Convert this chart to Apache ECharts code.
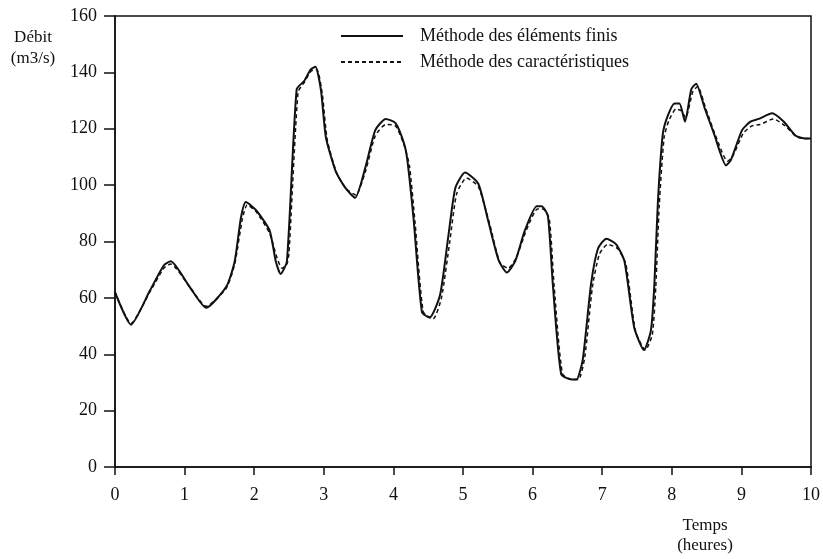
<!DOCTYPE html>
<html>
<head>
<meta charset="utf-8">
<script src="https://cdn.jsdelivr.net/npm/echarts@6/dist/echarts.min.js"></script>
<style>
html, body { margin: 0; padding: 0; background: #fff; }
#chart { width: 823px; height: 559px; }
</style>
</head>
<body>
<div id="chart"></div>
<script>
/*********************** données ***********************/
// Méthode des éléments finis (trait plein)
var tFinis = [0, 0.23, 0.5, 0.7, 0.8, 1.07, 1.31, 1.6, 1.72, 1.81, 1.88, 2.03, 2.22, 2.31, 2.38, 2.47,
    2.61, 2.72, 2.81, 2.88, 2.96, 3.03, 3.17, 3.31, 3.45, 3.6, 3.74, 3.89, 4.03, 4.15, 4.2, 4.29,
    4.41, 4.52, 4.67, 4.79, 4.89, 5.03, 5.22, 5.36, 5.51, 5.63, 5.75, 5.89, 6.06, 6.13, 6.22, 6.29,
    6.41, 6.56, 6.63, 6.72, 6.84, 6.94, 7.06, 7.2, 7.32, 7.46, 7.6, 7.7, 7.75, 7.8, 7.87, 7.94,
    8.04, 8.11, 8.19, 8.28, 8.35, 8.47, 8.61, 8.78, 8.85, 9.01, 9.13, 9.25, 9.44, 9.61, 9.78, 9.94, 10];
var qFinis = [62, 50.5, 62.5, 71.5, 73, 64, 56.5, 64, 73, 88.5, 94, 91, 84, 73, 68.5, 73,
    134, 137, 141, 142, 133.5, 117, 105, 99, 95.5, 106.5, 119.5, 123.5, 122, 115, 109, 88,
    55, 53, 61, 82, 99, 104.5, 100.5, 87.5, 73.5, 69, 73, 84, 92.5, 92.5, 89, 65,
    33, 31, 31, 38, 65, 77.5, 81, 79, 73, 49.5, 41.5, 48.5, 65, 94, 118, 124.5,
    129, 129, 122.5, 134, 136, 127.5, 118, 107, 109, 119.5, 122.5, 123.5, 125.5, 122.5, 117.5, 116.5, 116.5];

// Méthode des caractéristiques (tirets)
var tCarac = [0, 0.23, 0.5, 0.7, 0.8, 1.07, 1.31, 1.6, 1.72, 1.83, 1.9, 2.03, 2.22, 2.33, 2.4, 2.47, 2.5,
    2.63, 2.72, 2.82, 2.9, 2.98, 3.05, 3.19, 3.33, 3.46, 3.6, 3.74, 3.89, 4.03, 4.15, 4.23, 4.31,
    4.43, 4.57, 4.69, 4.81, 4.91, 5.05, 5.22, 5.38, 5.53, 5.65, 5.77, 5.91, 6.07, 6.15, 6.24, 6.31,
    6.43, 6.58, 6.66, 6.75, 6.86, 6.96, 7.08, 7.22, 7.34, 7.48, 7.62, 7.72, 7.77, 7.82, 7.89, 7.96,
    8.06, 8.13, 8.2, 8.3, 8.37, 8.49, 8.63, 8.8, 8.87, 9.03, 9.15, 9.27, 9.46, 9.63, 9.8, 9.94, 10];
var qCarac = [62, 51, 62, 70.5, 72, 64, 57, 63.5, 72, 88, 93, 90.5, 83, 74, 70.5, 72, 76,
    133, 136.5, 140.5, 141, 132, 116, 104, 98.5, 96.5, 105, 117.5, 121.5, 121, 114.5, 107, 87,
    55, 52.5, 60, 80, 97, 102.5, 99.5, 86.5, 72.5, 70.5, 74.5, 84, 91.5, 91.5, 88, 64,
    33, 31, 31, 39, 64, 75.5, 79, 77.5, 72, 48, 41.5, 47, 64, 93, 117, 123,
    127, 126.5, 124, 133, 135, 127, 117.5, 108.5, 110, 118.5, 121, 121.5, 123.5, 121, 117, 116.5, 116.5];

var serieNames = ['Méthode des éléments finis', 'Méthode des caractéristiques'];

/*********************** graphique ***********************/
var chart = echarts.init(document.getElementById('chart'));
var police = 'Liberation Serif';

function paires(t, q) {
    var out = [];
    for (var i = 0; i < t.length; i++) out.push([t[i], q[i]]);
    return out;
}

var option = {
    animation: false,
    backgroundColor: '#fff',
    color: ['#111', '#111'],
    textStyle: {fontFamily: police},
    grid: {left: 115, right: 11, top: 16, bottom: 92, show: true, borderColor: '#111', borderWidth: 1.5, backgroundColor: 'transparent'},
    legend: {
        orient: 'vertical', left: 335, top: 22, itemWidth: 62, itemHeight: 12, itemGap: 8,
        data: serieNames,
        itemStyle: {opacity: 0},
        textStyle: {fontFamily: police, fontSize: 18, color: '#111', padding: [0, 0, 0, 12]}
    },
    xAxis: {
        type: 'value', min: 0, max: 10, interval: 1,
        axisLine: {show: true, lineStyle: {color: '#111', width: 1.5}},
        axisTick: {show: true, inside: false, length: 8, lineStyle: {color: '#111', width: 1.5}},
        axisLabel: {fontFamily: police, fontSize: 18, color: '#111', margin: 19},
        splitLine: {show: false}
    },
    yAxis: {
        type: 'value', min: 0, max: 160, interval: 20,
        axisLine: {show: true, lineStyle: {color: '#111', width: 1.5}},
        axisTick: {show: true, inside: false, length: 11, lineStyle: {color: '#111', width: 1.5}},
        axisLabel: {fontFamily: police, fontSize: 18, color: '#111', margin: 18},
        splitLine: {show: false}
    },
    graphic: [
        {type: 'text', x: 33, y: 27, style: {text: 'Débit\n(m3/s)', fontFamily: police, fontSize: 17, fill: '#111', align: 'center', lineHeight: 21}},
        {type: 'text', x: 705, y: 516, style: {text: 'Temps\n(heures)', fontFamily: police, fontSize: 17, fill: '#111', align: 'center', lineHeight: 20}}
    ],
    series: [
        {name: serieNames[0], type: 'line', symbol: 'none', smooth: 0.2, data: paires(tFinis, qFinis),
            lineStyle: {color: '#111', width: 2, type: 'solid'}},
        {name: serieNames[1], type: 'line', symbol: 'none', smooth: 0.2, data: paires(tCarac, qCarac),
            lineStyle: {color: '#111', width: 1.5, type: [4, 3]}}
    ]
};
chart.setOption(option);
</script>
</body>
</html>
